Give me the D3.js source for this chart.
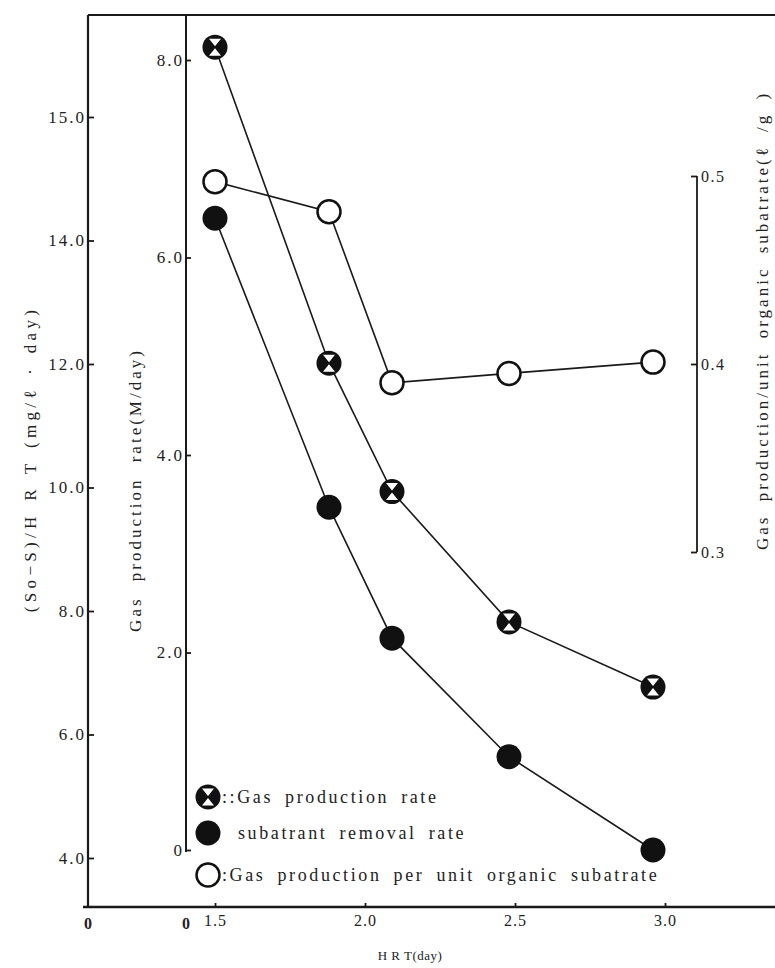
<!DOCTYPE html>
<html><head><meta charset="utf-8">
<script src="https://cdn.jsdelivr.net/npm/d3@7"></script>
<style>
html,body{margin:0;padding:0;background:#fff;}
svg{display:block;}
text{font-family:"Liberation Serif","DejaVu Serif",serif;fill:#222;}
</style></head>
<body>
<script>
// ---- data ----
const hrt          = [1.5, 1.88, 2.09, 2.48, 2.96];
const gasRate      = [8.13, 4.93, 3.63, 2.31, 1.65];     // middle axis (M/day)
const removalRate  = [14.36, 9.68, 7.56, 5.64, 4.13];    // left axis
const gasPerUnit   = [0.497, 0.481, 0.390, 0.395, 0.401];// right axis

const xTickValues = [1.5, 2.0, 2.5, 3.0];
const xTickLabels = ["1.5", "2.0", "2.5", "3.0"];
const leftTickValues = [4, 6, 8, 10, 12, 14, 16];
const leftTickLabels = ["4.0", "6.0", "8.0", "10.0", "12.0", "14.0", "15.0"];
const midTickValues = [0, 2, 4, 6, 8];
const midTickLabels = ["0", "2.0", "4.0", "6.0", "8.0"];
const rightTickValues = [0.3, 0.4, 0.5];
const rightTickLabels = ["0.3", "0.4", "0.5"];

const legendLabels = ["::Gas production rate", "subatrant removal rate", ":Gas production per unit organic subatrate"];
const legendKinds = ["cross", "filled", "open"];

// ---- layout ----
const W = 775, H = 968;
const leftAxisX = 88, midAxisX = 186, rightAxisX = 697;
const topY = 15, xAxisY = 907;

const svg = d3.select("body").append("svg").attr("width", W).attr("height", H);

const x = d3.scaleLinear().domain([1.5, 3.0]).range([215, 665]);
const yLeft = d3.scaleLinear().domain([4, 16]).range([858, 117]);
const yMid = d3.scaleLinear().domain([0, 8]).range([850, 60]);
const yRight = d3.scaleLinear().domain([0.3, 0.5]).range([552, 176]);

const ink = "#1a1a1a";

// frame lines
svg.append("line").attr("x1", leftAxisX).attr("x2", W).attr("y1", topY).attr("y2", topY)
  .attr("stroke", ink).attr("stroke-width", 2.2);
svg.append("line").attr("x1", leftAxisX).attr("x2", leftAxisX).attr("y1", topY).attr("y2", xAxisY)
  .attr("stroke", ink).attr("stroke-width", 2.2);
svg.append("line").attr("x1", midAxisX).attr("x2", midAxisX).attr("y1", topY).attr("y2", yMid(0) + 2)
  .attr("stroke", ink).attr("stroke-width", 2);
svg.append("line").attr("x1", leftAxisX - 5).attr("x2", W).attr("y1", xAxisY).attr("y2", xAxisY)
  .attr("stroke", ink).attr("stroke-width", 2.6);
svg.append("line").attr("x1", rightAxisX).attr("x2", rightAxisX).attr("y1", yRight(0.5)).attr("y2", yRight(0.3))
  .attr("stroke", ink).attr("stroke-width", 1.8);

function styleAxis(g, size, ls) {
  g.select(".domain").remove();
  g.selectAll(".tick line").attr("stroke", ink).attr("stroke-width", 1.8);
  g.selectAll(".tick text").attr("font-size", size).attr("letter-spacing", ls)
    .attr("font-family", "Liberation Serif, DejaVu Serif, serif").attr("fill", "#222");
}

// left axis
const gL = svg.append("g").attr("transform", `translate(${leftAxisX},0)`)
  .call(d3.axisLeft(yLeft).tickValues(leftTickValues).tickSizeInner(-6).tickSizeOuter(0).tickPadding(2)
    .tickFormat(d => leftTickLabels[leftTickValues.indexOf(d)]));
styleAxis(gL, 17, "2px");

// middle axis
const gM = svg.append("g").attr("transform", `translate(${midAxisX},0)`)
  .call(d3.axisLeft(yMid).tickValues(midTickValues).tickSizeInner(-5).tickSizeOuter(0).tickPadding(2)
    .tickFormat(d => midTickLabels[midTickValues.indexOf(d)]));
styleAxis(gM, 17, "2px");

// right axis
const gR = svg.append("g").attr("transform", `translate(${rightAxisX},0)`)
  .call(d3.axisRight(yRight).tickValues(rightTickValues).tickSizeInner(-6).tickSizeOuter(0).tickPadding(4)
    .tickFormat(d => rightTickLabels[rightTickValues.indexOf(d)]));
styleAxis(gR, 16, "1.5px");

// x axis
const gX = svg.append("g").attr("transform", `translate(0,${xAxisY})`)
  .call(d3.axisBottom(x).tickValues(xTickValues).tickSizeInner(-4).tickSizeOuter(0).tickPadding(8)
    .tickFormat(d => xTickLabels[xTickValues.indexOf(d)]));
styleAxis(gX, 16, "1px");

// origin labels
[leftAxisX, midAxisX].forEach(px => {
  svg.append("text").attr("x", px).attr("y", xAxisY + 22).attr("text-anchor", "middle")
    .attr("font-size", 16).attr("font-weight", "bold").text("0");
});

// axis titles
svg.append("text").attr("transform", `translate(36,459) rotate(-90)`).attr("text-anchor", "middle")
  .attr("font-size", 17).attr("letter-spacing", "4.3px").attr("word-spacing", "3px")
  .text("(So−S)/H R T (mg/ℓ · day)");
svg.append("text").attr("transform", `translate(141,490) rotate(-90)`).attr("text-anchor", "middle")
  .attr("font-size", 17).attr("letter-spacing", "3px").attr("word-spacing", "8px")
  .text("Gas production rate(M/day)");
svg.append("text").attr("transform", `translate(768,550) rotate(-90)`).attr("text-anchor", "start")
  .attr("font-size", 17).attr("letter-spacing", "3px").attr("word-spacing", "6px")
  .text("Gas production/unit organic subatrate(ℓ /g )");
svg.append("text").attr("x", 410).attr("y", 960).attr("text-anchor", "middle")
  .attr("font-size", 13).attr("letter-spacing", "0.5px").text("H R T(day)");

// series lines
const lineOf = (ys, scale) => d3.line().x((d, i) => x(hrt[i])).y(d => scale(d))(ys);
[[gasPerUnit, yRight], [gasRate, yMid], [removalRate, yLeft]].forEach(([ys, sc]) => {
  svg.append("path").attr("d", lineOf(ys, sc)).attr("fill", "none")
    .attr("stroke", ink).attr("stroke-width", 1.6);
});

// markers
function drawMarker(g, kind) {
  if (kind === "filled") {
    g.append("circle").attr("r", 12.5).attr("fill", "#111");
  } else if (kind === "open") {
    g.append("circle").attr("r", 11.5).attr("fill", "#fff").attr("stroke", "#111").attr("stroke-width", 2.5);
  } else {
    g.append("circle").attr("r", 12.5).attr("fill", "#111");
    g.append("path").attr("d", "M-6,-8.5L6,-8.5L0,-1Z").attr("fill", "#fff");
    g.append("path").attr("d", "M-6,8.5L6,8.5L0,1Z").attr("fill", "#fff");
  }
}
hrt.forEach((h, i) => drawMarker(svg.append("g").attr("transform", `translate(${x(h)},${yRight(gasPerUnit[i])})`), "open"));
hrt.forEach((h, i) => drawMarker(svg.append("g").attr("transform", `translate(${x(h)},${yMid(gasRate[i])})`), "cross"));
hrt.forEach((h, i) => drawMarker(svg.append("g").attr("transform", `translate(${x(h)},${yLeft(removalRate[i])})`), "filled"));

// legend
const legRowsY = [797, 833, 875];
const legTextX = [222, 238, 222];
legendKinds.forEach((k, i) => {
  drawMarker(svg.append("g").attr("transform", `translate(208,${legRowsY[i]})`), k);
  svg.append("text").attr("x", legTextX[i]).attr("y", legRowsY[i] + 6)
    .attr("font-size", 18).attr("letter-spacing", "2.6px").attr("word-spacing", "5px")
    .text(legendLabels[i]);
});
</script>
</body></html>
